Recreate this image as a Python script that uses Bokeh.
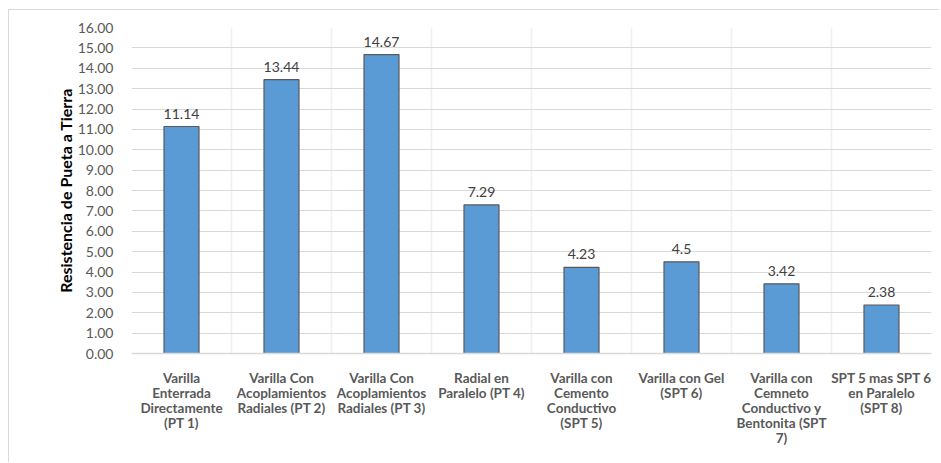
from bokeh.plotting import figure
from bokeh.models import Range1d, FixedTicker, ColumnDataSource, LabelSet, NumeralTickFormatter
from bokeh.core.properties import value
from bokeh.embed import file_html
from bokeh.resources import INLINE

categories = [
    "Varilla\nEnterrada\nDirectamente\n(PT 1)",
    "Varilla Con\nAcoplamientos\nRadiales (PT 2)",
    "Varilla Con\nAcoplamientos\nRadiales (PT 3)",
    "Radial en\nParalelo (PT 4)",
    "Varilla con\nCemento\nConductivo\n(SPT 5)",
    "Varilla con Gel\n(SPT 6)",
    "Varilla con\nCemneto\nConductivo y\nBentonita (SPT\n7)",
    "SPT 5 mas SPT 6\nen Paralelo\n(SPT 8)",
]
values = [11.14, 13.44, 14.67, 7.29, 4.23, 4.5, 3.42, 2.38]
value_labels = ["11.14", "13.44", "14.67", "7.29", "4.23", "4.5", "3.42", "2.38"]
y_ticks = [float(v) for v in range(0, 17)]

n = len(categories)
xs = [i + 0.5 for i in range(n)]
src = ColumnDataSource(dict(x=xs, top=values, lab=value_labels))

p = figure(width=931, height=453, output_backend="svg", toolbar_location=None,
           x_range=Range1d(0, n), y_range=Range1d(0, 16),
           min_border_left=122, min_border_right=9, min_border_top=17,
           min_border_bottom=110)
p.styles = {"border-top": "1px solid #d9d9d9", "border-left": "1px solid #d9d9d9",
            "margin-left": "8px", "margin-top": "9px"}
p.outline_line_color = None

p.vbar(x="x", top="top", width=0.35, source=src, fill_color="#5B9BD5",
       line_color="#595959", line_width=1.2)

labels = LabelSet(x="x", y="top", text="lab", source=src, text_align="center",
                  text_baseline="bottom", y_offset=8, text_font=value("Lato"),
                  text_font_size="14px", text_color="#404040")
p.add_layout(labels)

# y axis
p.yaxis.ticker = FixedTicker(ticks=y_ticks)
p.yaxis.formatter = NumeralTickFormatter(format="0.00")
p.yaxis.axis_line_color = None
p.yaxis.major_tick_line_color = None
p.yaxis.minor_tick_line_color = None
p.yaxis.major_label_text_font = "Lato"
p.yaxis.major_label_text_font_size = "14px"
p.yaxis.major_label_text_color = "#595959"
p.yaxis.major_label_standoff = 12
p.yaxis.axis_label = "Resistencia de Pueta a Tierra"
p.yaxis.axis_label_text_font = "Lato"
p.yaxis.axis_label_text_font_style = "bold"
p.yaxis.axis_label_text_font_size = "16px"
p.yaxis.axis_label_text_color = "#000000"
p.yaxis.axis_label_standoff = 0

# x axis
p.xaxis.ticker = FixedTicker(ticks=xs)
p.xaxis.major_label_overrides = {x: c for x, c in zip(xs, categories)}
p.xaxis.axis_line_color = "#d9d9d9"
p.xaxis.axis_line_width = 1.5
p.xaxis.major_tick_line_color = None
p.xaxis.minor_tick_line_color = None
p.xaxis.major_label_text_font = "Lato"
p.xaxis.major_label_text_font_style = "bold"
p.xaxis.major_label_text_font_size = "13.5px"
p.xaxis.major_label_text_color = "#595959"
p.xaxis.major_label_text_line_height = 0.94
p.xaxis.major_label_standoff = 10

# grids
p.ygrid.ticker = FixedTicker(ticks=y_ticks)
p.ygrid.grid_line_color = "#d9d9d9"
p.ygrid.grid_line_width = 1.2
p.xgrid.ticker = FixedTicker(ticks=list(range(0, n + 1)))
p.xgrid.grid_line_color = "#efefef"
p.xgrid.grid_line_width = 1.5

open("out.html", "w").write(file_html(p, INLINE))
